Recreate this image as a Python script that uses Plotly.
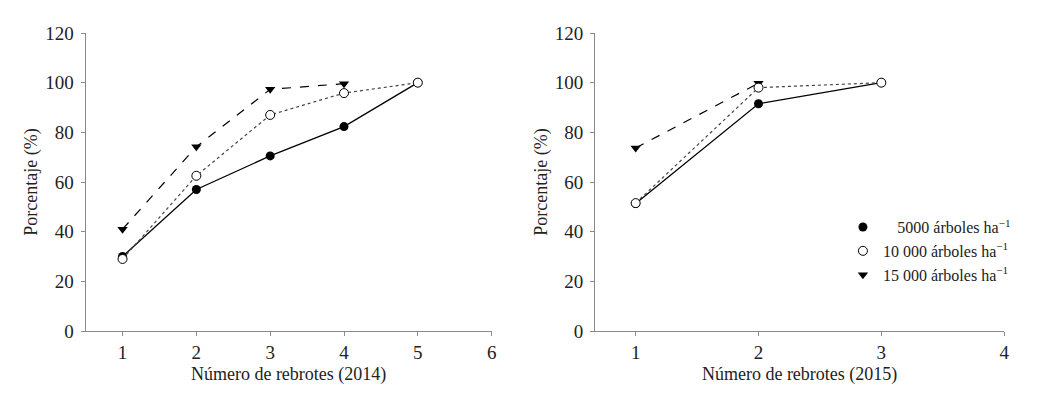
import plotly.graph_objects as go

# Data
x_2014 = [1, 2, 3, 4, 5]
s5000_2014 = [30, 57, 70.5, 82.3, 100]
s10000_2014 = [29, 62.5, 87, 95.8, 100]
x_2014_15k = [1, 2, 3, 4]
s15000_2014 = [41, 74.2, 97.3, 99.6]

x_2015 = [1, 2, 3]
s5000_2015 = [51.3, 91.5, 100]
s10000_2015 = [51.5, 98, 100]
x_2015_15k = [1, 2]
s15000_2015 = [73.7, 99.8]

names = ["\u2007\u2009\u20095000 árboles ha<sup>−1</sup>",
         "10 000 árboles ha<sup>−1</sup>",
         "15 000 árboles ha<sup>−1</sup>"]

FONT = "Liberation Serif, DejaVu Serif, serif"
fig = go.Figure()

m_filled = dict(symbol="circle", size=9, color="black")
m_open = dict(symbol="circle", size=9, color="white", line=dict(width=1, color="black"))
m_tri = dict(symbol="triangle-down", size=9, color="black")

def add_set(xs, xs15, a, b, c, xa, ya):
    fig.add_trace(go.Scatter(x=xs, y=a, mode="lines+markers",
        line=dict(color="black", width=1.3, dash="solid"), marker=m_filled,
        xaxis=xa, yaxis=ya, showlegend=False))
    fig.add_trace(go.Scatter(x=xs15, y=c, mode="lines+markers",
        line=dict(color="black", width=1.2, dash="dash"), marker=m_tri,
        xaxis=xa, yaxis=ya, showlegend=False))
    fig.add_trace(go.Scatter(x=xs, y=b, mode="lines+markers",
        line=dict(color="#444444", width=1.2, dash="dot"), marker=m_open,
        xaxis=xa, yaxis=ya, showlegend=False))

add_set(x_2014, x_2014_15k, s5000_2014, s10000_2014, s15000_2014, "x", "y")
add_set(x_2015, x_2015_15k, s5000_2015, s10000_2015, s15000_2015, "x2", "y2")

# legend entries (markers only)
for nm, mk in zip(names, [m_filled, m_open, m_tri]):
    fig.add_trace(go.Scatter(x=[None], y=[None], mode="markers", name=nm,
                             marker=mk, xaxis="x2", yaxis="y2", showlegend=True))

W, H = 1030, 390
axis_common = dict(showline=True, linecolor="#8a8a8a", linewidth=1.2,
                   ticks="outside", ticklen=4, tickcolor="#8a8a8a",
                   showgrid=False, zeroline=False,
                   tickfont=dict(family=FONT, size=19, color="#222"))
tfont = dict(family=FONT, size=18, color="#222")

fig.update_layout(
    width=W, height=H,
    margin=dict(l=0, r=0, t=25, b=67),
    plot_bgcolor="white", paper_bgcolor="white",
    font=dict(family=FONT, size=16, color="#222"),
    xaxis=dict(domain=[78 / W, 486 / W], range=[0.5, 6], tickvals=[1, 2, 3, 4, 5, 6],
               anchor="y",
               title=dict(text="Número de rebrotes (2014)", font=tfont, standoff=5),
               **axis_common),
    yaxis=dict(domain=[0, 1], range=[0, 120], tickvals=[0, 20, 40, 60, 80, 100, 120],
               anchor="x", ticklabelstandoff=3,
               title=dict(text="Porcentaje (%)", font=tfont, standoff=2),
               **axis_common),
    xaxis2=dict(domain=[590 / W, 1001 / W], range=[0.67, 4], tickvals=[1, 2, 3, 4],
                anchor="y2",
                title=dict(text="Número de rebrotes (2015)", font=tfont, standoff=5),
                **axis_common),
    yaxis2=dict(domain=[0, 1], range=[0, 120], tickvals=[0, 20, 40, 60, 80, 100, 120],
                anchor="x2", ticklabelstandoff=3,
                title=dict(text="Porcentaje (%)", font=tfont, standoff=2),
                **axis_common),
    legend=dict(x=839 / W, y=0.268, xanchor="left", yanchor="middle",
                font=dict(family=FONT, size=16, color="#222"),
                bgcolor="rgba(0,0,0,0)", tracegroupgap=0, itemwidth=30,
                traceorder="normal"),
)

fig.write_html("out.html")
